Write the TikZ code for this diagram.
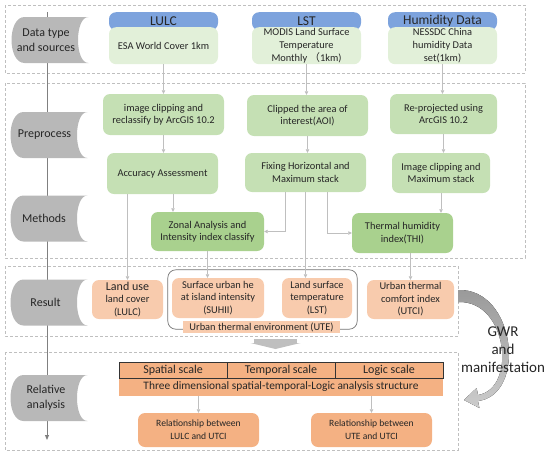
\documentclass[tikz,border=0pt]{standalone}
\usepackage{fontspec}
\setmainfont{Carlito}
\newfontfamily\cjk{Noto Sans CJK SC}
\usetikzlibrary{arrows.meta}
\definecolor{hdrblue}{RGB}{125,163,221}
\definecolor{srcgreen}{RGB}{226,240,217}
\definecolor{pregreen}{RGB}{197,224,180}
\definecolor{methgreen}{RGB}{169,209,142}
\definecolor{respeach}{RGB}{248,203,173}
\definecolor{relorange}{RGB}{244,177,131}
\definecolor{linegray}{RGB}{191,191,191}
\definecolor{stagegray}{RGB}{184,184,184}
\definecolor{txtgray}{RGB}{38,38,38}
\tikzset{
  section/.style={draw=linegray, dash pattern=on 3pt off 2pt, line width=0.6pt},
  timeline/.style={draw=black!50, line width=1pt, -{Triangle[length=5pt,width=4pt]}},
  stagebg/.pic={\fill[stagegray] (38.5,-23) -- (-25.5,-23) .. controls (-42.8,-23) and (-42.8,23) .. (-25.5,23) -- (38.5,23) .. controls (24.5,23) and (24.5,-23) .. cycle;},
  stage/.style={align=center, inner sep=0pt, text=txtgray, font=\fontsize{12}{14.5}\selectfont},
  hdr/.style={anchor=north, minimum width=109pt, minimum height=18pt, inner sep=0pt, rounded corners=7pt, fill=hdrblue, text=txtgray, font=\fontsize{13.5}{15}\selectfont},
  srcbody/.style={anchor=north, minimum width=109pt, minimum height=37pt, inner sep=1pt, rounded corners=7pt, fill=srcgreen, align=center, text=txtgray, font=\fontsize{10.4}{13}\selectfont},
  prebox/.style={fill=pregreen, rounded corners=7pt, align=center, inner sep=1pt, text=txtgray, font=\fontsize{10.4}{12.5}\selectfont},
  methbox/.style={prebox, fill=methgreen},
  resbox/.style={prebox, fill=respeach},
  uteframe/.style={draw=black!55, line width=0.7pt, rounded corners=8pt},
  utelabel/.style={fill=respeach, inner sep=1pt, minimum height=12pt, minimum width=157pt, text=txtgray, font=\fontsize{10.4}{12}\selectfont},
  cell/.style={minimum width=108pt, minimum height=16pt, inner sep=0pt, draw=black!80, line width=0.7pt, fill=relorange, text=txtgray, font=\fontsize{12}{14}\selectfont},
  tblrow/.style={minimum width=324pt, minimum height=18pt, inner sep=0pt, fill=relorange, text=txtgray, font=\fontsize{11.4}{13}\selectfont},
  relbox/.style={minimum width=121pt, minimum height=34pt, inner sep=1pt, rounded corners=7pt, fill=relorange, align=center, text=txtgray, font=\fontsize{9.6}{13}\selectfont},
  link/.style={draw=linegray, line width=0.7pt, -{Triangle[length=3.5pt,width=3.5pt]}},
  fatarrow/.style={fill=linegray},
  gwrband/.style={top color=black!40, bottom color=black!20},
  gwrtext/.style={align=center, inner sep=0pt, text=txtgray, font=\fontsize{15}{18}\selectfont},
}
\begin{document}
\begin{tikzpicture}[x=1pt,y=-1pt]
\useasboundingbox (0,0) rectangle (550,456);
\draw[section] (5,5) rectangle (525,73);
\draw[section] (5,83) rectangle (525,258);
\draw[section] (5,266) rectangle (458,336);
\draw[section] (5,352) rectangle (458,450);
\coordinate (axtop) at (47,12);
\coordinate (axend) at (47,440);
\draw[timeline] (axtop) -- (axend);
\pic at (50,40) {stagebg};
\node[stage] (stype) at (46,40) {Data type\\and sources};
\pic at (49,135) {stagebg};
\node[stage] (spre) at (44.5,135) {Preprocess};
\pic at (49,218.5) {stagebg};
\node[stage] (smeth) at (44,218.5) {Methods};
\pic at (49,302.5) {stagebg};
\node[stage] (sres) at (45.5,302.5) {Result};
\pic at (49,398) {stagebg};
\node[stage] (srel) at (46,398) {Relative\\analysis};
\node[hdr] (lulchd) at (163.5,12) {LULC};
\node[srcbody] (lulc) at (163.5,27) {ESA World Cover 1km};
\node[hdr] (lsthd) at (306.5,12) {LST};
\node[srcbody] (lst) at (306.5,27) {MODIS Land Surface\\Temperature\\Monthly {\cjk （}1km)};
\node[hdr] (humhd) at (442.5,12) {Humidity Data};
\node[srcbody] (hum) at (442.5,27) {NESSDC China\\humidity Data\\set(1km)};
\node[prebox, minimum width=121pt, minimum height=41pt] (clip) at (163.5,114.5) {image clipping and\\reclassify by ArcGIS 10.2};
\node[prebox, minimum width=121pt, minimum height=41pt] (aoi) at (307.5,115.5) {Clipped the area of\\interest(AOI)};
\node[prebox, minimum width=107pt, minimum height=40pt] (reproj) at (443.5,114) {Re-projected using\\ArcGIS 10.2};
\node[prebox, minimum width=111pt, minimum height=41pt] (acc) at (162.5,173.5) {Accuracy Assessment};
\node[prebox, minimum width=121pt, minimum height=39pt] (fix) at (305.5,172.5) {Fixing Horizontal and\\Maximum stack};
\node[prebox, minimum width=98pt, minimum height=40pt] (himg) at (441,173) {Image clipping and\\Maximum stack};
\node[methbox, minimum width=113pt, minimum height=39pt] (zonal) at (207.5,231.5) {Zonal Analysis and\\Intensity index classify};
\node[methbox, minimum width=101pt, minimum height=40pt] (thi) at (402.5,233) {Thermal humidity\\index(THI)};
\node[resbox, minimum width=71pt, minimum height=39pt] (landuse) at (127.5,299.5) {\fontsize{12}{12.5}\selectfont Land use\\land cover\\\fontsize{10.4}{12.5}\selectfont (LULC)};
\node[resbox, minimum width=92pt, minimum height=40pt] (suhii) at (218,298) {Surface urban he\\at island intensity\\(SUHII)};
\node[resbox, minimum width=70pt, minimum height=40pt] (lstres) at (317,298) {Land surface\\temperature\\(LST)};
\node[resbox, minimum width=87pt, minimum height=39pt] (utci) at (410.5,299.5) {Urban thermal\\comfort index\\(UTCI)};
\draw[uteframe] ([shift={(-4,-8)}]suhii.north west) rectangle ([shift={(5,11)}]lstres.south east);
\node[utelabel] (ute) at (261.5,327) {Urban thermal environment (UTE)};
\fill[fatarrow] (253.5,339) rectangle (296.5,343.3);
\fill[fatarrow] (250.5,343) -- (300.5,343) -- (275.5,349) -- cycle;
\node[tblrow] (tblrow) at (281,387) {Three dimensional spatial-temporal-Logic analysis structure};
\node[cell] (spatial) at (173,370) {Spatial scale};
\node[cell] (temporal) at (281,370) {Temporal scale};
\node[cell] (logic) at (389,370) {Logic scale};
\node[relbox] (rel1) at (198.5,430) {Relationship between\\LULC and UTCI};
\node[relbox] (rel2) at (371.5,430) {Relationship between\\UTE and UTCI};
\draw[link] (lulc.south) -- (lulc.south |- clip.north);
\draw[link] (lst.south) -- (lst.south |- aoi.north);
\draw[link] (hum.south) -- (hum.south |- reproj.north);
\draw[link] (clip.south) -- (clip.south |- acc.north);
\draw[link] (aoi.south) -- (aoi.south |- fix.north);
\draw[link] (reproj.south) -- (reproj.south |- himg.north);
\draw[link] ([xshift=10.5pt]acc.south) -- ([xshift=10.5pt]acc.south |- zonal.north);
\draw[link] (acc.south -| landuse.north) -- (landuse.north);
\draw[link] ([xshift=-20.5pt]fix.south) |- (zonal.east);
\draw[link] ([xshift=21.5pt]fix.south) |- (thi.west);
\draw[link] (fix.south) -- (fix.south |- lstres.north);
\draw[link] (himg.south) -- (himg.south |- thi.north);
\draw[link] (zonal.south) -- (zonal.south |- suhii.north);
\draw[link] (utci.north |- thi.south) -- (utci.north);
\draw[link] (rel1.north |- tblrow.south) -- (rel1.north);
\draw[link] (rel2.north |- tblrow.south) -- (rel2.north);
\fill[gwrband] (458,290) .. controls (516,288) and (527,395) .. (478,401) -- (479.4,408) -- (464,400) -- (476.6,388) -- (478,395) .. controls (517,389) and (508,300) .. (458,302) -- cycle;
\node[gwrtext] (gwr) at (503,350) {GWR\\and\\manifestation};
\end{tikzpicture}
\end{document}
